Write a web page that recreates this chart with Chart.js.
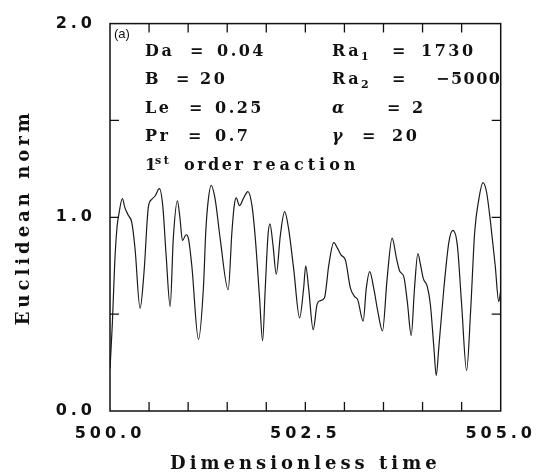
<!DOCTYPE html>
<html>
<head>
<meta charset="utf-8">
<script src="https://cdn.jsdelivr.net/npm/chart.js@4/dist/chart.umd.min.js"></script>
<style>
  html, body { margin: 0; padding: 0; background: #fff; }
  #wrap { width: 539px; height: 473px; position: relative; }
</style>
</head>
<body>
<div id="wrap"><canvas id="normChart"></canvas></div>
<script>
// time series
const times = [
  500.000, 500.030, 500.060, 500.090, 500.115, 500.158, 500.190, 500.235, 500.278, 500.320,
  500.385, 500.436, 500.490, 500.535, 500.577, 500.632, 500.675, 500.718, 500.770, 500.810,
  500.863, 500.897, 500.927, 500.974, 501.004, 501.047, 501.132, 501.196, 501.225, 501.250,
  501.295, 501.346, 501.410, 501.513, 501.560, 501.590, 501.615, 501.658, 501.710, 501.765,
  501.817, 501.860, 501.914, 501.953, 501.987, 502.022, 502.047, 502.086, 502.128, 502.180,
  502.235, 502.286, 502.350, 502.427, 502.478, 502.505, 502.542, 502.600, 502.650, 502.690,
  502.744, 502.800, 502.863, 502.914, 502.958, 503.013, 503.077, 503.128, 503.170, 503.240,
  503.280, 503.324, 503.375, 503.427, 503.487, 503.547, 503.610, 503.667, 503.710, 503.760,
  503.806, 503.855, 503.897, 503.940, 503.974, 504.009, 504.060, 504.100, 504.145, 504.175,
  504.208, 504.273, 504.337, 504.388, 504.445, 504.500, 504.564, 504.615, 504.667, 504.720,
  504.773, 504.820, 504.870, 504.930, 504.975, 505.000
];
const norms = [
  0.22, 0.45, 0.76, 0.95, 1.02, 1.097, 1.05, 1.01, 0.975, 0.84,
  0.53, 0.72, 1.05, 1.093, 1.11, 1.148, 1.06, 0.805, 0.54, 0.89,
  1.085, 0.99, 0.88, 0.91, 0.89, 0.75, 0.37, 0.64, 0.92, 1.06,
  1.165, 1.093, 0.89, 0.626, 0.923, 1.06, 1.10, 1.06, 1.10, 1.133,
  1.06, 0.89, 0.583, 0.362, 0.634, 0.907, 0.966, 0.856, 0.706, 0.907,
  1.029, 0.94, 0.736, 0.481, 0.634, 0.75, 0.634, 0.42, 0.55, 0.57,
  0.583, 0.753, 0.869, 0.838, 0.805, 0.779, 0.634, 0.592, 0.575, 0.464,
  0.634, 0.72, 0.634, 0.515, 0.413, 0.685, 0.893, 0.787, 0.72, 0.694,
  0.56, 0.39, 0.634, 0.813, 0.754, 0.685, 0.643, 0.55, 0.328, 0.184,
  0.328, 0.634, 0.872, 0.932, 0.856, 0.55, 0.209, 0.515, 0.923, 1.093,
  1.179, 1.128, 0.974, 0.75, 0.565, 0.62
];
const xLabelValues = [500, 502.5, 505];
const yLabelValues = [0, 1, 2];

const points = times.map((t, i) => ({ x: t, y: norms[i] }));

// frame with inward ticks on all four sides
const framePlugin = {
  id: 'frame',
  beforeDraw(chart) {
    chart.ctx.letterSpacing = '4px';
  },
  afterDraw(chart) {
    const { ctx, chartArea: a, scales: { x, y } } = chart;
    ctx.save();
    ctx.letterSpacing = '0px';
    ctx.strokeStyle = '#111';
    ctx.lineWidth = 1.5;
    ctx.strokeRect(a.left, a.top, a.right - a.left, a.bottom - a.top);
    ctx.lineWidth = 1.3;
    ctx.beginPath();
    x.ticks.forEach(tk => {
      const px = x.getPixelForValue(tk.value);
      if (px <= a.left + 1 || px >= a.right - 1) return;
      ctx.moveTo(px, a.bottom); ctx.lineTo(px, a.bottom - 9);
      ctx.moveTo(px, a.top); ctx.lineTo(px, a.top + 9);
    });
    y.ticks.forEach(tk => {
      const py = y.getPixelForValue(tk.value);
      if (py <= a.top + 1 || py >= a.bottom - 1) return;
      ctx.moveTo(a.left, py); ctx.lineTo(a.left + 9, py);
      ctx.moveTo(a.right, py); ctx.lineTo(a.right - 9, py);
    });
    ctx.stroke();
    ctx.restore();
  }
};

// parameter block in the upper part of the panel
const notesPlugin = {
  id: 'notes',
  afterDraw(chart) {
    const ctx = chart.ctx;
    const main = 'bold 16px "DejaVu Serif"';
    const small = 'bold 11px "DejaVu Serif"';
    const greek = 'italic bold 16px "DejaVu Serif"';
    const put = (txt, x, y, font) => { ctx.font = font || main; ctx.fillText(txt, x, y); };
    ctx.save();
    ctx.fillStyle = '#111';
    ctx.textBaseline = 'alphabetic';
    ctx.textAlign = 'left';
    ctx.letterSpacing = '0px';
    put('(a)', 114, 38, '13px "Liberation Sans"');
    ctx.letterSpacing = '2.5px';
    const rows = [56, 84, 113, 141, 170];
    put('Da', 145, rows[0]); put('=', 190, rows[0]); put('0.04', 217, rows[0]);
    put('B', 145, rows[1]); put('=', 176, rows[1]); put('20', 200, rows[1]);
    put('Le', 145, rows[2]); put('=', 189, rows[2]); put('0.25', 215, rows[2]);
    put('Pr', 145, rows[3]); put('=', 188, rows[3]); put('0.7', 215, rows[3]);
    put('1', 145, rows[4]); put('st', 155, rows[4] - 6, small); put('order', 184, rows[4]);
    ctx.letterSpacing = '4px';
    put('reaction', 253, rows[4]);
    ctx.letterSpacing = '2.5px';
    put('Ra', 332, rows[0]); put('1', 361, rows[0] + 4, small); put('=', 392, rows[0]); put('1730', 421, rows[0]);
    put('Ra', 332, rows[1]); put('2', 361, rows[1] + 4, small); put('=', 392, rows[1]);
    ctx.letterSpacing = '1.5px';
    put('\u22125000', 436, rows[1]);
    ctx.letterSpacing = '2.5px';
    put('\u03b1', 332, rows[2], greek); put('=', 387, rows[2]); put('2', 412, rows[2]);
    put('\u03b3', 332, rows[3], greek); put('=', 362, rows[3]); put('20', 392, rows[3]);
    ctx.restore();
  }
};

new Chart(document.getElementById('normChart'), {
  type: 'line',
  data: {
    datasets: [{
      data: points,
      borderColor: '#1a1a1a',
      borderWidth: 1.2,
      pointRadius: 0,
      fill: false,
      cubicInterpolationMode: 'monotone'
    }]
  },
  options: {
    responsive: true,
    maintainAspectRatio: false,
    animation: false,
    layout: { padding: { top: 19, right: 38, left: 0, bottom: 0 } },
    plugins: { legend: { display: false }, tooltip: { enabled: false } },
    scales: {
      x: {
        type: 'linear',
        min: 500,
        max: 505,
        afterFit: s => { s.height = 62; },
        grid: { display: false, drawTicks: false },
        border: { display: false },
        ticks: {
          stepSize: 0.5,
          autoSkip: false,
          maxRotation: 0,
          padding: 13,
          color: '#111',
          font: { family: 'DejaVu Sans', weight: 'bold', size: 16 },
          callback: v => xLabelValues.includes(v) ? v.toFixed(1) : ''
        },
        title: {
          display: true,
          text: 'Dimensionless time',
          color: '#111',
          padding: { top: 0, bottom: 0 },
          font: { family: 'DejaVu Serif', weight: 'bold', size: 18, lineHeight: 1 }
        }
      },
      y: {
        min: 0,
        max: 2,
        afterFit: s => { s.width = 110; },
        grid: { display: false, drawTicks: false },
        border: { display: false },
        ticks: {
          stepSize: 0.5,
          padding: 14,
          color: '#111',
          font: { family: 'DejaVu Sans', weight: 'bold', size: 16 },
          callback: v => yLabelValues.includes(v) ? v.toFixed(1) : ''
        },
        title: {
          display: true,
          text: 'Euclidean norm',
          color: '#111',
          padding: { top: 15, bottom: 0 },
          font: { family: 'DejaVu Serif', weight: 'bold', size: 18, lineHeight: 1 }
        }
      }
    }
  },
  plugins: [framePlugin, notesPlugin]
});
</script>
</body>
</html>
